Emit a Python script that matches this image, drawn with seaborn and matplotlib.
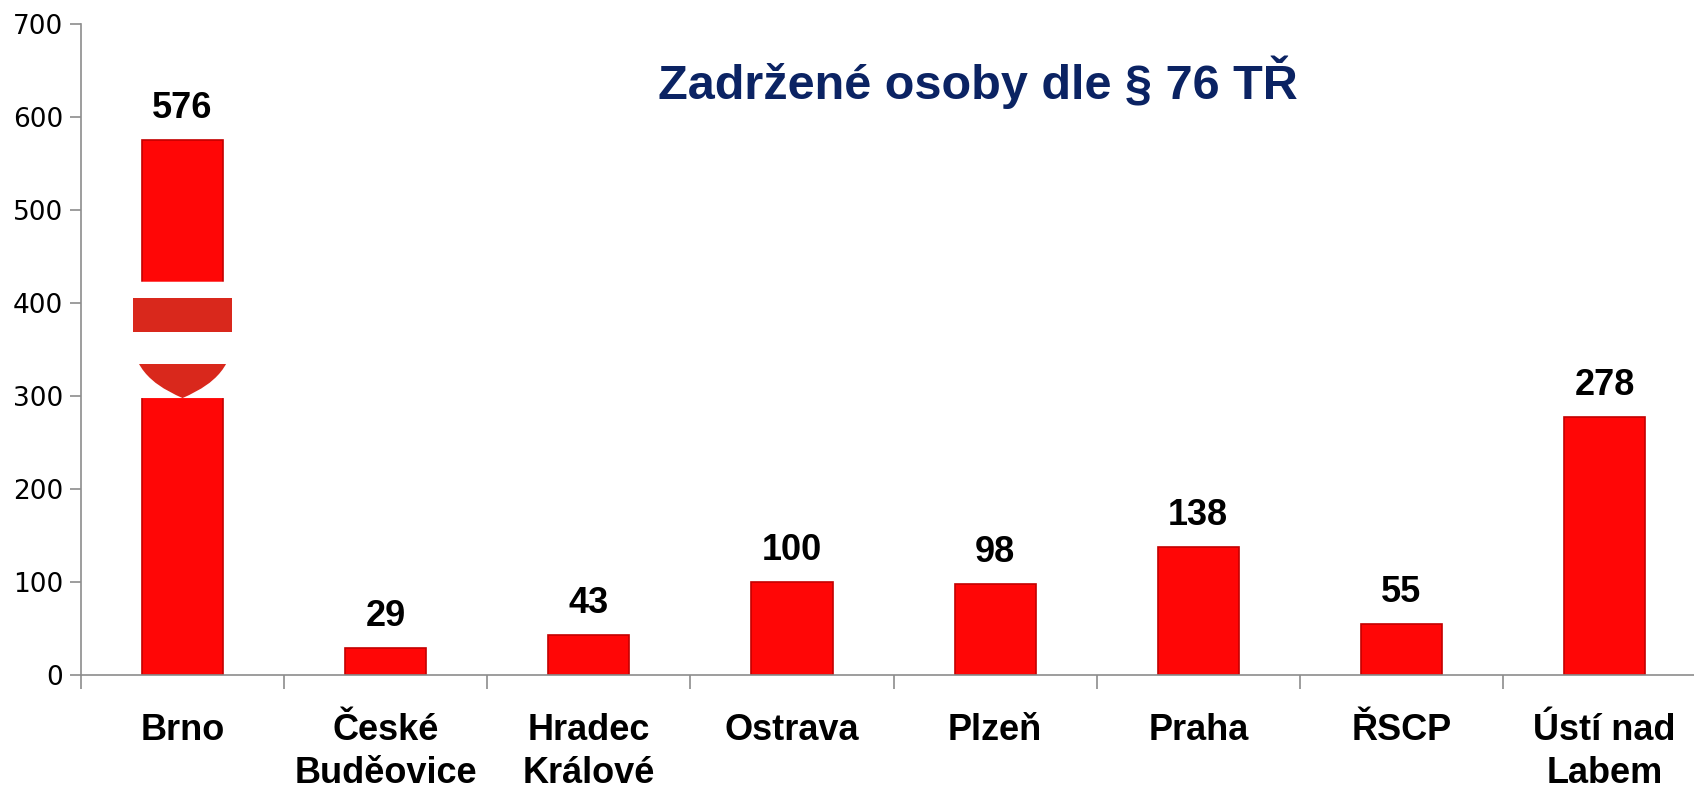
import numpy as np
import matplotlib
matplotlib.use("Agg")
import matplotlib.pyplot as plt
from matplotlib.path import Path
from matplotlib.patches import PathPatch, FancyBboxPatch, Rectangle
import seaborn as sns

# ---- data ----
categories = ["Brno", "České\nBuděovice", "Hradec\nKrálové", "Ostrava",
              "Plzeň", "Praha", "ŘSCP", "Ústí nad\nLabem"]
values = [576, 29, 43, 100, 98, 138, 55, 278]
y_ticks = [0, 100, 200, 300, 400, 500, 600, 700]
title = "Zadržené osoby dle § 76 TŘ"

sns.set_theme(style="white")
plt.rcParams["font.family"] = ["Liberation Sans", "DejaVu Sans"]

fig = plt.figure(figsize=(16.94, 7.85), dpi=100)
ax = fig.add_axes([0.0478, 0.140, 0.9522, 0.829])

sns.barplot(x=categories, y=values, color="#ff0606", saturation=1,
            width=0.4, edgecolor="#c40000", linewidth=1.2, ax=ax)

# value labels above the bars
ax.bar_label(ax.containers[0], padding=10, fontsize=26,
             fontweight="bold", color="black")

# Brno shield drawn over the first bar
cx, hw = 0, 0.245
y_top, y_bot, y_side = 423, 298, 362
ax.add_patch(FancyBboxPatch((cx - hw, y_bot), 2 * hw, y_top - y_bot,
                            boxstyle="round,pad=0,rounding_size=0.03",
                            mutation_aspect=60, fc="white", ec="none", zorder=3))
verts = [(cx - hw, y_top), (cx + hw, y_top), (cx + hw, y_side),
         (cx + hw, 322), (cx + 0.08, 306), (cx, y_bot),
         (cx - 0.08, 306), (cx - hw, 322), (cx - hw, y_side),
         (cx - hw, y_top)]
codes = [Path.MOVETO, Path.LINETO, Path.LINETO,
         Path.CURVE4, Path.CURVE4, Path.CURVE4,
         Path.CURVE4, Path.CURVE4, Path.CURVE4, Path.CLOSEPOLY]
shield = PathPatch(Path(verts, codes), fc="white", ec="none", zorder=4)
ax.add_patch(shield)
for lo, hi in [(369, 406), (250, 335)]:
    stripe = Rectangle((cx - hw, lo), 2 * hw, hi - lo, fc="#d9281c",
                       ec="none", zorder=5)
    ax.add_patch(stripe)
    stripe.set_clip_path(shield)

# axes styling
ax.set_ylim(0, 700)
ax.set_xlim(-0.5, 7.44)
ax.set_yticks(y_ticks)
ax.set_yticklabels([str(t) for t in y_ticks], fontsize=19,
                   family="DejaVu Sans", color="black")
ax.set_xticks(range(len(categories)))
ax.set_xticklabels(categories, fontsize=26, fontweight="bold",
                   color="black", linespacing=1.3, va="top")
ax.set_xticks(np.arange(-0.5, 7.5, 1.0), minor=True)
ax.tick_params(axis="x", which="major", length=0, pad=27)
ax.tick_params(axis="x", which="minor", length=10, width=1.2,
               color="#8c8c8c", direction="out", bottom=True)
ax.tick_params(axis="y", length=8, width=1.2, color="#8c8c8c",
               direction="out", left=True, pad=5)

for side in ["top", "right"]:
    ax.spines[side].set_visible(False)
for side in ["left", "bottom"]:
    ax.spines[side].set_color("#8c8c8c")
    ax.spines[side].set_linewidth(1.2)
ax.set_xlabel("")
ax.set_ylabel("")

fig.text(0.577, 0.895, title, ha="center", va="center", fontsize=35,
         fontweight="bold", color="#0b2363")

fig.savefig("out.png", dpi=100)
